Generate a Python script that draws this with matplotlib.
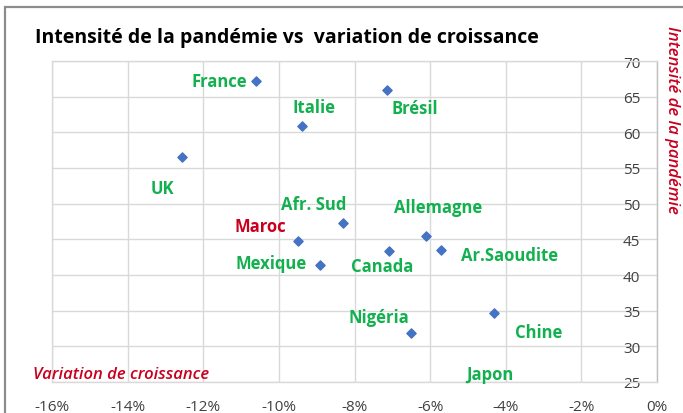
import matplotlib
matplotlib.use("Agg")
import matplotlib.pyplot as plt
from matplotlib.patches import Rectangle
from matplotlib.ticker import FuncFormatter

# ---- data ----
countries = ["France", "Brésil", "Italie", "UK", "Afr. Sud", "Maroc", "Mexique",
             "Canada", "Allemagne", "Ar.Saoudite", "Nigéria", "Chine", "Japon"]
growth_var = [-10.6, -7.15, -9.4, -12.55, -8.3, -9.5, -8.9,
              -7.1, -6.1, -5.7, -6.5, -4.3, -4.5]          # % variation de croissance
intensity = [67.2, 65.9, 60.9, 56.5, 47.3, 44.7, 41.4,
             43.3, 45.5, 43.5, 31.9, 34.7, 23.0]           # intensité de la pandémie

x_ticks = [-16, -14, -12, -10, -8, -6, -4, -2, 0]
y_ticks = [25, 30, 35, 40, 45, 50, 55, 60, 65, 70]

# ---- styles ----
label_offsets = {  # pixel offsets of label centre from marker (dx right, dy down)
    "France": (-37, 0), "Brésil": (28, 18), "Italie": (12, -19), "UK": (-20, 31),
    "Afr. Sud": (-29, -19), "Maroc": (-37, -15), "Mexique": (-49, -2),
    "Canada": (-6, 15), "Allemagne": (12, -29), "Ar.Saoudite": (68, 5),
    "Nigéria": (-32, -16), "Chine": (44, 19), "Japon": (3, -22),
}
GREEN = "#12B04E"
RED = "#C8001E"
FONT = ["Open Sans", "DejaVu Sans"]

W, H = 683, 414
fig = plt.figure(figsize=(W / 100, H / 100), dpi=100)
fig.patch.set_facecolor("white")

# outer chart frame (partially visible)
fig.add_artist(Rectangle((5 / W, -0.1), 1.2, 1 - 8 / H + 0.1, transform=fig.transFigure,
                         fill=False, edgecolor="#8C8C8C", linewidth=1.6))

l, r, b, t = 52, 657, 383, 62
ax = fig.add_axes([l / W, 1 - b / H, (r - l) / W, (b - t) / H])
ax.set_xlim(-16, 0)
ax.set_ylim(25, 70)
ax.set_xticks(x_ticks)
ax.set_yticks(y_ticks)
ax.grid(True, color="#D9D9D9", linewidth=1.0)
ax.set_axisbelow(True)
for s in ax.spines.values():
    s.set_color("#D9D9D9")
    s.set_linewidth(1.0)
ax.spines["right"].set_color("#BFBFBF")

ax.xaxis.set_major_formatter(FuncFormatter(lambda v, p: f"{int(round(v))}%"))
ax.tick_params(axis="x", length=0, pad=12, labelsize=11, labelcolor="#404040")
ax.tick_params(axis="y", left=False, right=False, labelleft=False, labelright=True,
               length=0, pad=-12, labelsize=11, labelcolor="#404040")
for lb in ax.get_yticklabels():
    lb.set_horizontalalignment("right")
for lb in ax.get_xticklabels() + ax.get_yticklabels():
    lb.set_fontfamily(FONT)

ax.scatter(growth_var, intensity, marker="D", s=22, color="#4472C4",
           edgecolors="#4472C4", zorder=3, clip_on=True)

for name, xv, yv in zip(countries, growth_var, intensity):
    dx, dy = label_offsets[name]
    ax.annotate(name, (xv, yv), xytext=(dx, -dy), textcoords="offset pixels",
                ha="center", va="center", fontsize=12, fontweight="bold",
                color=RED if name == "Maroc" else GREEN, family=FONT,
                annotation_clip=False, zorder=4)

fig.text(287 / W, 1 - 38 / H, "Intensité de la pandémie vs  variation de croissance",
         ha="center", va="center", fontsize=14, fontweight="bold", color="black",
         family=FONT)
fig.text(672 / W, 1 - 120 / H, "Intensité de la pandémie", rotation=-90,
         ha="center", va="center", fontsize=12, fontstyle="italic", fontweight="semibold",
         color=RED, family=FONT)
fig.text(121 / W, 1 - 375 / H, "Variation de croissance",
         ha="center", va="center", fontsize=12, fontstyle="italic", fontweight="semibold",
         color=RED, family=FONT)

fig.savefig("out.png", dpi=100)
